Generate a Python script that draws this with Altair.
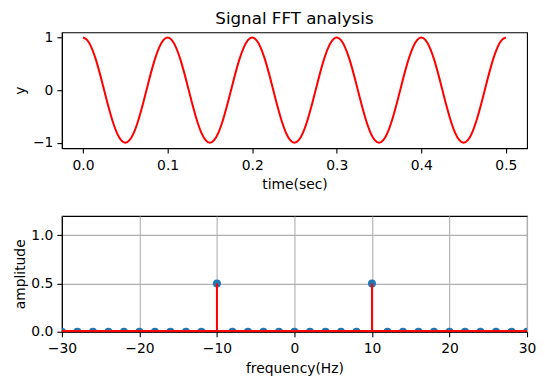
import altair as alt
import pandas as pd

# Time-domain signal
time_s = [0.000, 0.005, 0.010, 0.015, 0.020, 0.025, 0.030, 0.035, 0.040, 0.045,
          0.050, 0.055, 0.060, 0.065, 0.070, 0.075, 0.080, 0.085, 0.090, 0.095,
          0.100, 0.105, 0.110, 0.115, 0.120, 0.125, 0.130, 0.135, 0.140, 0.145,
          0.150, 0.155, 0.160, 0.165, 0.170, 0.175, 0.180, 0.185, 0.190, 0.195,
          0.200, 0.205, 0.210, 0.215, 0.220, 0.225, 0.230, 0.235, 0.240, 0.245,
          0.250, 0.255, 0.260, 0.265, 0.270, 0.275, 0.280, 0.285, 0.290, 0.295,
          0.300, 0.305, 0.310, 0.315, 0.320, 0.325, 0.330, 0.335, 0.340, 0.345,
          0.350, 0.355, 0.360, 0.365, 0.370, 0.375, 0.380, 0.385, 0.390, 0.395,
          0.400, 0.405, 0.410, 0.415, 0.420, 0.425, 0.430, 0.435, 0.440, 0.445,
          0.450, 0.455, 0.460, 0.465, 0.470, 0.475, 0.480, 0.485, 0.490, 0.495,
          0.500]
signal_y = [1.0, 0.95, 0.81, 0.59, 0.31, 0.0, -0.31, -0.59, -0.81, -0.95,
            -1.0, -0.95, -0.81, -0.59, -0.31, 0.0, 0.31, 0.59, 0.81, 0.95,
            1.0, 0.95, 0.81, 0.59, 0.31, 0.0, -0.31, -0.59, -0.81, -0.95,
            -1.0, -0.95, -0.81, -0.59, -0.31, 0.0, 0.31, 0.59, 0.81, 0.95,
            1.0, 0.95, 0.81, 0.59, 0.31, 0.0, -0.31, -0.59, -0.81, -0.95,
            -1.0, -0.95, -0.81, -0.59, -0.31, 0.0, 0.31, 0.59, 0.81, 0.95,
            1.0, 0.95, 0.81, 0.59, 0.31, 0.0, -0.31, -0.59, -0.81, -0.95,
            -1.0, -0.95, -0.81, -0.59, -0.31, 0.0, 0.31, 0.59, 0.81, 0.95,
            1.0, 0.95, 0.81, 0.59, 0.31, 0.0, -0.31, -0.59, -0.81, -0.95,
            -1.0, -0.95, -0.81, -0.59, -0.31, 0.0, 0.31, 0.59, 0.81, 0.95,
            1.0]

# Spectrum
freqs = [-30, -28, -26, -24, -22, -20, -18, -16, -14, -12, -10, -8, -6, -4, -2,
         0, 2, 4, 6, 8, 10, 12, 14, 16, 18, 20, 22, 24, 26, 28, 30]
amps = [0, 0, 0, 0, 0, 0, 0, 0, 0, 0, 0.5, 0, 0, 0, 0,
        0, 0, 0, 0, 0, 0.5, 0, 0, 0, 0, 0, 0, 0, 0, 0, 0]

x_ticks_top = [0.0, 0.1, 0.2, 0.3, 0.4, 0.5]
y_ticks_top = [-1, 0, 1]
x_ticks_bot = [-30, -20, -10, 0, 10, 20, 30]
y_ticks_bot = [0.0, 0.5, 1.0]

sig = pd.DataFrame({"t": time_s, "y": signal_y})
spec = pd.DataFrame({"f": freqs, "a": amps})

FONT = "DejaVu Sans"
FS = 13.9
RED = "#ff0000"
BLUE = "#1f77b4"

W, H = 466, 116
EXT = 30

def yaxis(title, values, fmt, grid):
    return alt.Axis(title=title, values=values, format=fmt, grid=grid,
                    minExtent=EXT, maxExtent=EXT, titlePadding=4,
                    tickSize=5, labelPadding=4, labelFlush=False)

def xaxis(title, values, fmt, grid):
    return alt.Axis(title=title, values=values, format=fmt, grid=grid,
                    tickSize=5, labelPadding=5, titlePadding=6,
                    labelFlush=False)

top = alt.Chart(sig).mark_line(color=RED, strokeWidth=2, interpolate="monotone").encode(
    x=alt.X("t:Q", scale=alt.Scale(domain=[-0.025, 0.525], nice=False, zero=False),
            axis=xaxis("time(sec)", x_ticks_top, ".1f", False)),
    y=alt.Y("y:Q", scale=alt.Scale(domain=[-1.1, 1.1], nice=False),
            axis=yaxis("y", y_ticks_top, "d", False)),
).properties(width=W, height=H,
             title=alt.TitleParams("Signal FFT analysis", fontSize=16.7,
                                   fontWeight="normal", font=FONT, offset=3,
                                   color="black", anchor="middle"))

xs = alt.Scale(domain=[-30, 30], nice=False, zero=False)
ys = alt.Scale(domain=[0, 1.2], nice=False)

base = alt.Chart(spec)
pts = base.mark_circle(color=BLUE, size=64, opacity=1, clip=True).encode(
    x=alt.X("f:Q", scale=xs, axis=xaxis("frequency(Hz)", x_ticks_bot, "d", True)),
    y=alt.Y("a:Q", scale=ys, axis=yaxis("amplitude", y_ticks_bot, ".1f", True)),
)
stems = base.mark_rule(color=RED, strokeWidth=2, clip=True).encode(
    x=alt.X("f:Q", scale=xs),
    y=alt.Y("a:Q", scale=ys),
    y2=alt.datum(0),
)
baseline = alt.Chart(spec).mark_rule(color=RED, strokeWidth=2, clip=True).encode(
    x=alt.datum(min(freqs), scale=xs),
    x2=alt.datum(max(freqs)),
    y=alt.datum(0, scale=ys),
)
bottom = alt.layer(pts, stems, baseline).properties(width=W, height=H)

chart = alt.vconcat(top, bottom, spacing=22).properties(
    padding={"left": 5, "top": 2, "right": 0, "bottom": 0}
).configure_view(stroke="black", strokeWidth=1.1).configure_axis(
    labelFont=FONT, titleFont=FONT, labelFontSize=FS, titleFontSize=FS,
    labelColor="black", titleColor="black", domainColor="black",
    tickColor="black", domainWidth=1.1, tickWidth=1.1,
    gridColor="#b0b0b0", gridWidth=1.1, titleFontWeight="normal",
)

chart.save("out.html", embed_options={"renderer": "svg", "actions": False})
